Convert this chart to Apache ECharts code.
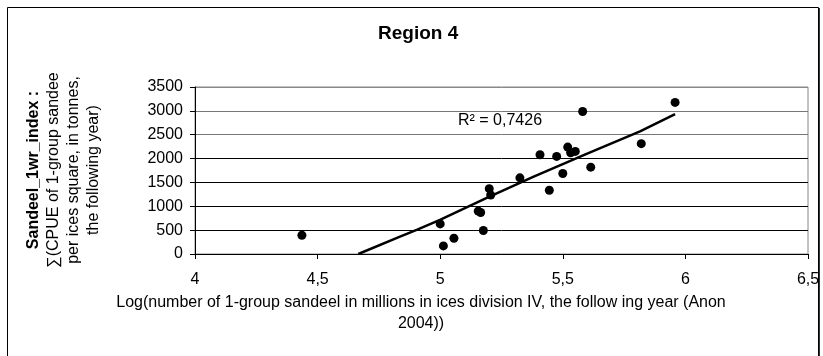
<!DOCTYPE html>
<html>
<head>
<meta charset="utf-8">
<script src="https://cdn.jsdelivr.net/npm/echarts@6/dist/echarts.min.js"></script>
<style>
  html, body { margin: 0; padding: 0; background: #fff; }
  #chart { width: 823px; height: 356px; }
</style>
</head>
<body>
<div id="chart"></div>
<script>
// Observed points: log10 of 1-group sandeel abundance vs. summed CPUE index
const logAbundance = [4.436, 5.0, 5.013, 5.056, 5.155, 5.165, 5.176, 5.2, 5.206, 5.325,
                      5.407, 5.445, 5.475, 5.5, 5.52, 5.532, 5.551, 5.581, 5.614, 5.82, 5.958];
const cpueIndex    = [394, 630, 170, 330, 900, 870, 492, 1370, 1237, 1596,
                      2081, 1335, 2045, 1687, 2241, 2123, 2150, 2987, 1820, 2313, 3177];

// Fitted trend curve (R² = 0,7426)
const trendX = [4.666, 4.836, 4.904, 4.999, 5.19, 5.379, 5.597, 5.815, 5.958];
const trendY = [0, 365, 506, 717, 1174, 1617, 2100, 2570, 2931];

const rSquaredText = 'R² = 0,7426';
const chartTitle = 'Region 4';
const xTitleLines = ['Log(number of 1-group sandeel in millions in ices division IV, the follow ing year (Anon', '2004))'];
const yTitleBold = 'Sandeel_1wr_index :';
const yTitleLines = ['∑(CPUE of 1-group sandee', 'per ices square, in tonnes,', 'the following year)'];

const FONT = '"Liberation Sans", Arial, sans-serif';

const scatterData = logAbundance.map((x, i) => [x, cpueIndex[i]]);
const trendData = trendX.map((x, i) => [x, trendY[i]]);

const chart = echarts.init(document.getElementById('chart'), null, { renderer: 'canvas' });

chart.setOption({
  animation: false,
  backgroundColor: '#fff',
  title: {
    text: chartTitle,
    left: 373,
    top: 19,
    textStyle: { fontFamily: FONT, fontSize: 19, fontWeight: 'bold', color: '#000' }
  },
  grid: {
    left: 195, right: 15, top: 87, bottom: 102,
    show: true, borderColor: '#888', borderWidth: 1, backgroundColor: 'transparent'
  },
  xAxis: {
    type: 'value',
    min: 4, max: 6.5, interval: 0.5,
    axisLine: { show: true, onZero: false, lineStyle: { color: '#000', width: 1 } },
    axisTick: { show: true, inside: false, length: 5, lineStyle: { color: '#000' } },
    splitLine: { show: false },
    axisLabel: {
      margin: 18,
      fontFamily: FONT, fontSize: 16, color: '#000',
      formatter: v => String(v).replace('.', ',')
    }
  },
  yAxis: {
    type: 'value',
    min: 0, max: 3500, interval: 500,
    axisLine: { show: true, lineStyle: { color: '#000', width: 1 } },
    axisTick: { show: true, inside: false, length: 5, lineStyle: { color: '#000' } },
    splitLine: {
      show: true,
      lineStyle: { color: ['#000', '#000', '#000', '#000', '#000', '#777', '#777', '#888'], width: 1 }
    },
    axisLabel: {
      margin: 12, fontFamily: FONT, fontSize: 16, color: '#000',
      formatter: v => String(v)
    }
  },
  series: [
    {
      type: 'scatter',
      data: scatterData,
      symbol: 'circle',
      symbolSize: 9,
      itemStyle: { color: '#000', opacity: 1 },
      z: 3
    },
    {
      type: 'line',
      data: trendData,
      showSymbol: false,
      symbol: 'none',
      lineStyle: { color: '#000', width: 2.5 },
      z: 2
    }
  ],
  graphic: [
    {
      type: 'rect',
      shape: { x: 7.5, y: 7.5, width: 811, height: 360 },
      style: { fill: null, stroke: '#000', lineWidth: 1 },
      silent: true
    },
    {
      type: 'line',
      shape: { x1: 819.5, y1: 8, x2: 819.5, y2: 360 },
      style: { stroke: '#333', lineWidth: 1 },
      silent: true
    },
    {
      type: 'text',
      left: 458, top: 113,
      style: { text: rSquaredText, font: '16px ' + FONT, fill: '#000' }
    },
    {
      type: 'text',
      x: 421, y: 292,
      style: {
        text: xTitleLines.join('\n'),
        font: '16px ' + FONT, fill: '#000',
        align: 'center', verticalAlign: 'top', lineHeight: 21
      }
    },
    {
      type: 'text',
      x: 64, y: 170,
      rotation: Math.PI / 2,
      style: {
        text: '{b|' + yTitleBold + '}\n' + yTitleLines.map(l => '{n|' + l + '}').join('\n'),
        align: 'center', verticalAlign: 'middle',
        fill: '#000',
        rich: {
          b: { font: 'bold 16px ' + FONT, lineHeight: 20, align: 'center' },
          n: { font: '16px ' + FONT, lineHeight: 20, align: 'center' }
        }
      }
    }
  ]
});
</script>
</body>
</html>
